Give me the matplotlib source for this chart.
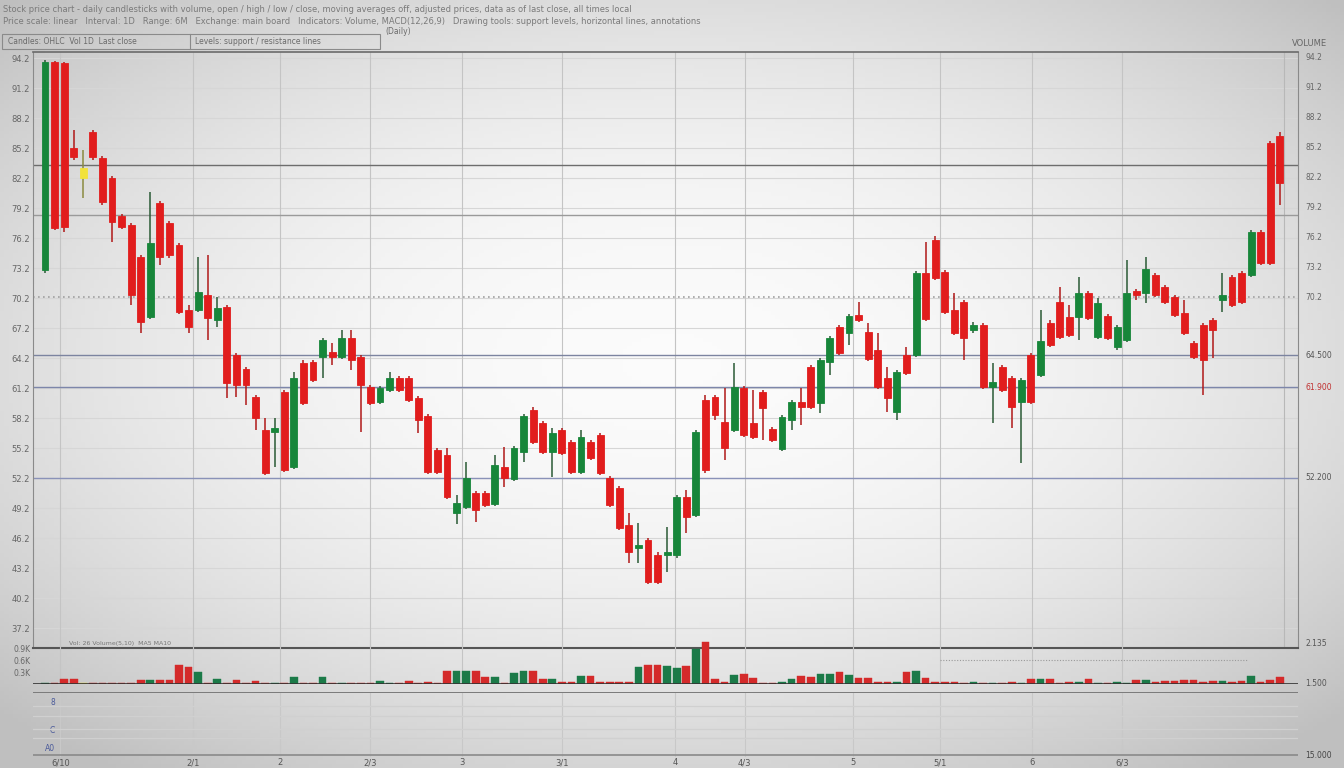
import numpy as np
import matplotlib
matplotlib.use("Agg")
import matplotlib.pyplot as plt

# ---------------- data ----------------
colors_code = list("GRRRYRRRRR" "RGRRRRGRGR" "RRRRGRGRRG" "RGRRRGGRRR" "RRRGGRRGRG"
                   "GRRGRRGRRR" "RRGRRGGRGR" "RRGRRRRGGR" "RGGRGRRRRG" "RGRRRRRGRG"
                   "RRGRGRRRGR" "GRGGRGRRRR" "RRRGRRGRRR")
opens = [73.0, 93.8, 93.7, 85.2, 83.2, 86.8, 84.2, 82.2, 78.4, 77.5,
         74.3, 68.3, 79.7, 77.7, 75.5, 69.0, 69.0, 70.5, 68.0, 69.3,
         64.5, 63.1, 60.3, 57.0, 56.8, 60.8, 53.3, 63.7, 63.8, 64.3,
         64.8, 64.3, 66.2, 64.3, 61.3, 59.8, 61.0, 62.2, 62.2, 60.2,
         58.4, 55.0, 54.5, 48.7, 49.3, 50.7, 50.7, 49.6, 53.3, 52.1,
         54.8, 59.0, 57.7, 54.8, 57.0, 55.8, 52.8, 55.8, 56.5, 52.2,
         51.2, 47.5, 45.2, 46.0, 44.5, 44.5, 44.5, 50.3, 48.5, 60.0,
         60.3, 57.8, 57.0, 61.2, 57.7, 60.8, 57.1, 55.1, 58.0, 59.8,
         63.3, 59.7, 63.8, 67.3, 66.7, 68.5, 66.8, 65.0, 62.2, 58.8,
         64.5, 64.5, 72.7, 76.0, 72.8, 69.0, 69.8, 67.0, 67.5, 61.3,
         63.3, 62.2, 59.8, 64.5, 62.5, 67.7, 69.8, 68.3, 68.3, 70.7,
         66.3, 68.4, 65.3, 66.0, 70.9, 70.7, 72.5, 71.3, 70.3, 68.7,
         65.7, 67.5, 68.0, 70.0, 72.3, 72.7, 72.5, 76.8, 85.7, 86.4]
highs = [94.0, 93.9, 93.8, 87.0, 85.0, 87.0, 84.4, 82.4, 78.6, 77.7,
         74.5, 80.8, 79.9, 77.9, 75.7, 69.5, 74.3, 74.5, 70.3, 69.5,
         64.7, 63.3, 60.5, 58.2, 58.2, 61.0, 62.8, 64.0, 64.0, 66.2,
         65.7, 67.0, 67.0, 64.5, 61.5, 61.4, 62.8, 62.4, 62.4, 60.4,
         58.6, 55.2, 55.2, 50.5, 53.8, 50.9, 50.9, 54.5, 55.3, 55.4,
         58.6, 59.3, 57.9, 57.2, 57.2, 56.0, 57.0, 56.0, 56.7, 52.4,
         51.4, 48.7, 47.7, 46.2, 44.8, 47.3, 50.5, 51.0, 57.0, 60.5,
         60.5, 61.2, 63.7, 61.4, 61.0, 61.0, 57.3, 58.5, 60.0, 61.2,
         63.5, 64.2, 66.4, 67.5, 68.6, 69.8, 67.7, 66.7, 63.3, 63.0,
         65.3, 72.9, 75.8, 76.4, 73.0, 70.7, 70.0, 67.8, 67.7, 63.7,
         63.5, 62.4, 62.2, 64.7, 69.0, 68.0, 71.3, 69.5, 72.3, 70.9,
         70.2, 68.6, 67.5, 74.0, 71.1, 74.3, 72.7, 71.5, 70.5, 70.0,
         65.9, 67.7, 68.2, 72.7, 72.5, 72.9, 77.0, 77.0, 85.9, 86.8]
lows = [72.7, 77.0, 76.8, 84.0, 80.2, 84.0, 79.5, 75.8, 77.1, 69.5,
        66.7, 68.1, 73.5, 74.2, 68.6, 66.7, 68.8, 66.0, 67.3, 60.2,
        60.3, 59.5, 57.0, 52.5, 53.3, 52.8, 53.1, 59.5, 61.8, 62.2,
        63.5, 64.1, 63.0, 56.8, 59.5, 59.6, 60.8, 60.8, 59.8, 56.7,
        52.6, 52.6, 50.1, 47.6, 49.1, 47.8, 49.3, 49.4, 51.3, 51.9,
        53.8, 55.6, 54.6, 52.3, 54.5, 52.6, 52.6, 54.0, 52.5, 49.3,
        47.0, 43.7, 43.7, 41.6, 41.6, 42.8, 44.2, 46.7, 48.3, 52.7,
        58.0, 54.0, 56.8, 56.3, 56.1, 56.0, 55.8, 54.9, 57.0, 57.5,
        59.1, 58.7, 62.5, 64.5, 65.5, 67.8, 63.9, 61.1, 58.8, 58.0,
        62.5, 64.3, 67.9, 72.0, 68.6, 66.5, 64.0, 66.7, 61.1, 57.7,
        60.8, 57.2, 53.7, 59.6, 62.3, 65.3, 66.1, 66.3, 66.0, 68.0,
        66.1, 66.0, 65.0, 65.8, 70.0, 69.7, 70.3, 69.6, 68.3, 66.5,
        64.1, 60.5, 64.2, 68.8, 69.3, 69.6, 72.3, 73.5, 73.5, 79.5]
closes = [93.8, 77.2, 77.3, 84.3, 82.2, 84.3, 79.8, 77.8, 77.3, 70.5,
          67.8, 75.7, 74.3, 74.5, 68.8, 67.3, 70.8, 68.2, 69.2, 61.7,
          61.5, 61.5, 58.2, 52.7, 57.2, 53.0, 62.2, 59.7, 62.0, 66.0,
          64.3, 66.2, 64.0, 61.5, 59.7, 61.2, 62.2, 61.0, 60.0, 58.0,
          52.8, 52.8, 50.3, 49.7, 52.2, 49.0, 49.5, 53.5, 52.2, 55.2,
          58.4, 55.8, 54.8, 56.7, 54.7, 52.8, 56.3, 54.2, 52.7, 49.5,
          47.2, 44.8, 45.5, 41.8, 41.8, 44.8, 50.3, 48.3, 56.8, 53.0,
          58.5, 55.2, 61.3, 56.5, 56.3, 59.2, 56.0, 58.3, 59.8, 59.3,
          59.3, 64.0, 66.2, 64.7, 68.4, 68.0, 64.1, 61.3, 60.2, 62.8,
          62.7, 72.7, 68.1, 72.2, 68.8, 66.7, 66.2, 67.5, 61.3, 61.8,
          61.0, 59.3, 62.0, 59.8, 65.9, 65.5, 66.3, 66.5, 70.7, 68.2,
          69.7, 66.2, 67.3, 70.7, 70.5, 73.1, 70.5, 69.8, 68.5, 66.7,
          64.3, 64.0, 67.0, 70.5, 69.5, 69.8, 76.8, 73.7, 73.7, 81.7]
volumes = [25, 25, 125, 125, 25, 25, 25, 25, 25, 25,
           100, 100, 100, 100, 475, 425, 300, 25, 125, 25,
           100, 25, 75, 25, 25, 25, 175, 25, 25, 175,
           25, 25, 25, 25, 25, 75, 25, 25, 75, 25,
           50, 25, 325, 325, 325, 325, 175, 175, 25, 275,
           325, 325, 125, 125, 50, 50, 200, 200, 50, 50,
           50, 50, 425, 475, 475, 450, 400, 450, 875, 1050,
           125, 50, 225, 250, 150, 25, 25, 50, 125, 200,
           175, 250, 250, 300, 225, 150, 150, 50, 50, 50,
           300, 325, 150, 50, 50, 50, 25, 50, 25, 25,
           25, 50, 25, 125, 125, 125, 25, 50, 50, 125,
           25, 25, 50, 25, 100, 100, 50, 75, 75, 100,
           100, 50, 75, 75, 50, 75, 200, 50, 100, 175]
date_labels = ["6/10", "2/1", "2", "2/3", "3", "3/1", "4", "4/3", "5", "5/1", "6", "6/3"]
ref_levels = [83.5, 78.5, 64.5, 61.3, 52.2]
right_marks = ["64.500", "61.900", "52.200"]

# ---------------- style ----------------
plt.rcParams['font.family'] = ['DejaVu Sans']
GREEN = '#17863a'
RED = '#e11d1d'
YELLOW = '#f2e23a'
cmap = {'G': GREEN, 'R': RED, 'Y': YELLOW}
wick_map = {'G': '#2a5a35', 'R': '#b01818', 'Y': '#8a8a40'}
vol_map = {'G': '#1b7a48', 'R': '#d42a2a', 'Y': '#f0dc3a'}

N = len(opens)
x = np.arange(N)
cols = [cmap[c] for c in colors_code[:N]]
wcols = [wick_map[c] for c in colors_code[:N]]
vcols = [vol_map[c] for c in colors_code[:N]]

W, H = 1344, 768
fig = plt.figure(figsize=(W / 100, H / 100), dpi=100)

# vignette background
bg = fig.add_axes([0, 0, 1, 1], zorder=-5)
gx, gy = np.meshgrid(np.linspace(-1, 1, 300), np.linspace(0, 1, 200))
dy = (gy - 0.47) / 0.53
g = 0.985 - 0.12 * gx ** 2 - 0.15 * dy ** 2
g = np.clip(g, 0.75, 1.0)
bg.imshow(np.dstack([g, g, g]), aspect='auto', extent=[0, 1, 0, 1], origin='upper')
bg.axis('off')


def fx(px):
    return px / W


def fy(py):
    return 1 - py / H


# price axes
ax = fig.add_axes([fx(33), fy(648), fx(1298) - fx(33), fy(52) - fy(648)])
ax.set_facecolor('none')
ax.set_xlim(-1.25, 130.9)
ax.set_ylim(35.2, 94.8)

grid_y = np.arange(37.2, 95.0, 3.0)
for yv in grid_y:
    ax.axhline(yv, color='#d6d6d6', lw=0.8, zorder=0)
xt = [1.6, 15.5, 24.6, 34.0, 43.6, 54.0, 65.8, 73.1, 84.4, 93.5, 103.1, 112.5]
for xv in xt:
    ax.axvline(xv, color='#c4c4c4', lw=0.8, zorder=0)
ax.axvline(129.4, color='#b8b8b8', lw=0.8, zorder=0)

lvl_cols = ['#6d6d6d', '#9a9a9a', '#7c84a0', '#7d86aa', '#8a92b8']
for lv, lc in zip(ref_levels, lvl_cols):
    ax.axhline(lv, color=lc, lw=1.0, zorder=1)
ax.axhline(70.3, color='#a0a0a0', lw=1.2, ls=(0, (1, 2)), zorder=1)

# candles
bottoms = np.minimum(opens, closes)
heights = np.maximum(np.abs(np.array(closes) - np.array(opens)), 0.3)
ax.vlines(x, lows, highs, colors=wcols, lw=1.1, zorder=2)
ax.bar(x, heights, bottom=bottoms, width=0.72, color=cols,
       edgecolor=cols, lw=0.6, zorder=3)

ax.set_xticks(xt)
ax.set_xticklabels([])
ax.tick_params(axis='x', length=0)
ax.set_yticks(grid_y)
ax.set_yticklabels([f"{v:.1f}" for v in grid_y])
ax.tick_params(axis='y', labelsize=6, colors='#666666', length=0, pad=2,
               labelleft=True, labelright=False)
for s in ['top', 'bottom', 'left', 'right']:
    ax.spines[s].set_color('#8a8a8a')
ax.spines['top'].set_color('#6a6a6a')
ax.spines['top'].set_linewidth(1.2)
ax.spines['bottom'].set_color('#555555')
ax.spines['bottom'].set_linewidth(1.5)

ytr = ax.get_yaxis_transform()
# right-hand labels only on the upper part, as in the reference
for yv in grid_y:
    if yv > 69:
        ax.text(1.006, yv, f"{yv:.1f}", transform=ytr, fontsize=5.5,
                color='#666666', ha='left', va='center')
for lv, lab, c in zip(ref_levels[2:], right_marks, ['#555555', '#c03030', '#555555']):
    ax.text(1.006, lv, lab, transform=ytr, fontsize=5.5, color=c, ha='left', va='center')

# volume axes
axv = fig.add_axes([fx(33), fy(684), fx(1298) - fx(33), fy(640) - fy(684)])
axv.set_facecolor('none')
axv.set_xlim(ax.get_xlim())
axv.set_ylim(0, 1100)
axv.bar(x, volumes, width=0.8, color=vcols, edgecolor=vcols, lw=0.3, zorder=3)
axv.axhline(0, color='#333333', lw=1.2, zorder=4)
axv.plot([93.5, 125.6], [600, 600], color='#9a9a9a', lw=0.8, ls=(0, (1, 1.5)))
for xv in xt:
    axv.axvline(xv, color='#c4c4c4', lw=0.8, zorder=0)
axv.set_xticks([])
axv.set_yticks([300, 600, 900])
axv.set_yticklabels(['0.3K', '0.6K', '0.9K'])
axv.tick_params(axis='y', labelsize=5.5, colors='#666666', length=0, pad=2)
for s in axv.spines.values():
    s.set_visible(False)
axv.text(2.5, 1000, "Vol: 26 Volume(5,10)  MA5 MA10", fontsize=4.5, color='#777777',
         va='center')
vtr = axv.get_yaxis_transform()
axv.text(1.006, 0, "1.500", transform=vtr, fontsize=5.5, color='#555555', va='center')
ax.text(1.006, 35.2, "2.135", transform=ytr, fontsize=5.5, color='#555555', va='bottom')

# lower indicator axes (empty)
axi = fig.add_axes([fx(33), fy(757), fx(1298) - fx(33), fy(692) - fy(757)])
axi.set_facecolor('none')
axi.set_xlim(ax.get_xlim())
axi.set_ylim(0, 10)
axi.axhline(10, color='#7a7a7a', lw=1.4)
for yv in [7.8, 6.3, 4.3, 2.9]:
    axi.axhline(yv, color='#d0d0d0', lw=0.9)
axi.axhline(0.3, color='#8a8a8a', lw=1.2)
for xv in xt:
    axi.axvline(xv, color='#c8c8c8', lw=0.8, zorder=0)
axi.set_yticks([8.5, 6.3, 4.3, 1.5])
axi.set_yticklabels(['8', '-', 'C', 'A0'])
axi.tick_params(axis='y', labelsize=5.5, colors='#4a5a9a', length=0, pad=-16)
axi.set_xticks(xt)
axi.set_xticklabels(date_labels)
axi.tick_params(axis='x', labelsize=6, colors='#555555', length=0, pad=1)
for s in axi.spines.values():
    s.set_visible(False)
axi.text(1.006, 0.3, "15.000", transform=axi.get_yaxis_transform(), fontsize=5.5,
         color='#444444', va='center')

# header texts
fig.text(fx(3), fy(10), "Stock price chart - daily candlesticks with volume, open / high / low / close, "
         "moving averages off, adjusted prices, data as of last close, all times local",
         fontsize=6, color='#7a7a7a', va='center')
fig.text(fx(3), fy(21), "Price scale: linear   Interval: 1D   Range: 6M   Exchange: main board   "
         "Indicators: Volume, MACD(12,26,9)   Drawing tools: support levels, horizontal lines, "
         "annotations", fontsize=6, color='#7a7a7a', va='center')
fig.text(fx(385), fy(31), "(Daily)", fontsize=5.5, color='#6a6a6a', va='center')
fig.add_artist(plt.Rectangle((fx(2), fy(49)), fx(378), fy(34) - fy(49),
                             transform=fig.transFigure, fill=False,
                             ec='#8a8a8a', lw=0.8))
fig.add_artist(plt.Line2D([fx(190), fx(190)], [fy(49), fy(34)],
                          transform=fig.transFigure, color='#8a8a8a', lw=0.8))
fig.text(fx(8), fy(41.5), "Candles: OHLC  Vol 1D  Last close", fontsize=5.5,
         color='#6a6a6a', va='center')
fig.text(fx(195), fy(41.5), "Levels: support / resistance lines", fontsize=5.5,
         color='#6a6a6a', va='center')
fig.text(fx(1292), fy(43), "VOLUME", fontsize=6, color='#666666', va='center')

fig.savefig("out.png", dpi=100)
